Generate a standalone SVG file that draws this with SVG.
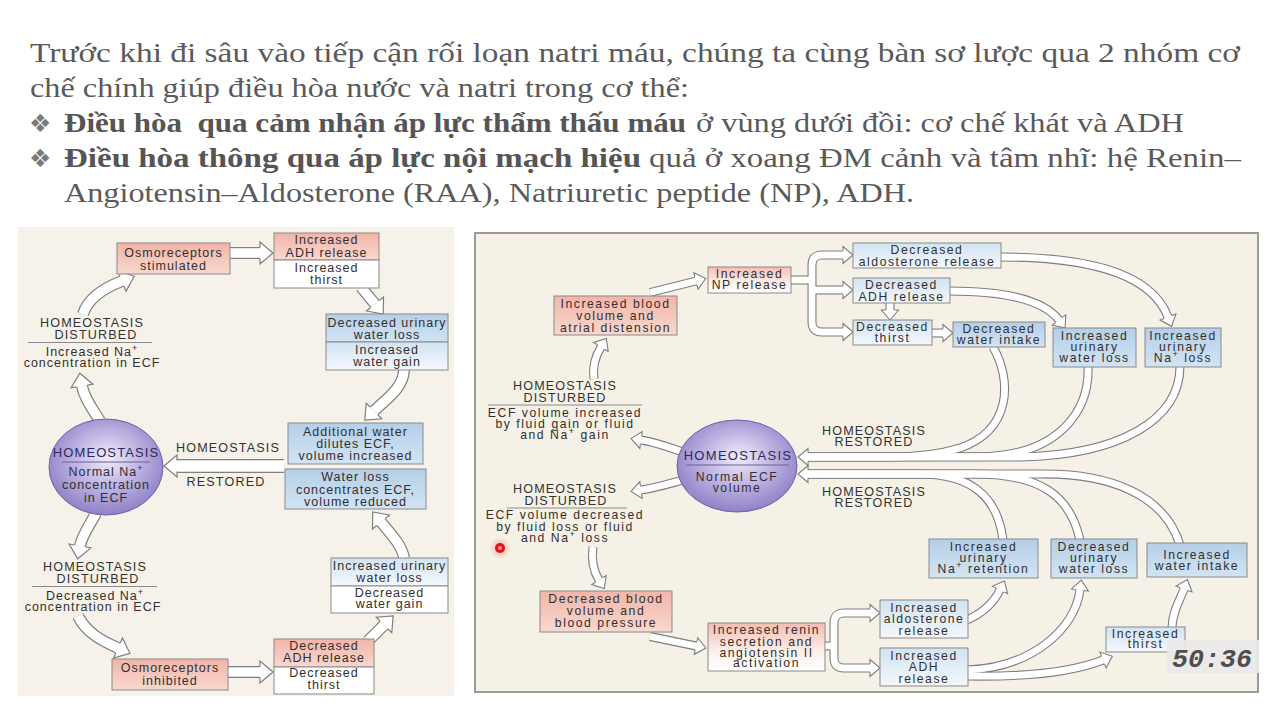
<svg xmlns="http://www.w3.org/2000/svg" width="1280" height="720" viewBox="0 0 1280 720">
<defs>
  <style>
    .hd{font-family:"Liberation Serif","DejaVu Serif",serif;font-size:28px;fill:#5a5a5a}
    .hb{font-weight:bold;fill:#555}
    .bul{font-family:"DejaVu Sans",sans-serif;font-size:25px;fill:#7a7a7a}
    .t{font-family:"Liberation Sans",Arial,sans-serif;font-size:12.5px;letter-spacing:1px;fill:#342e2e;text-anchor:middle}
    .tr{font-family:"Liberation Sans",Arial,sans-serif;font-size:12.2px;letter-spacing:1.55px;fill:#342e2e;text-anchor:middle}
    .cap{font-family:"Liberation Sans",Arial,sans-serif;font-size:12.6px;letter-spacing:1.15px;fill:#333;text-anchor:middle}
    .ttl{font-family:"Liberation Sans",Arial,sans-serif;font-size:13px;letter-spacing:1.1px;fill:#2d2a5c;text-anchor:middle}
    .box{stroke:#8a8a8a;stroke-width:1}
    .rule{stroke:#8a8a8a;stroke-width:1}
    .ol{fill:none;stroke:#7e7e7e;stroke-linejoin:round}
    .in{fill:none;stroke:#ffffff;stroke-linejoin:round}
    .L.ol{stroke-width:12}
    .L.in{stroke-width:9.6}
    .R.ol{stroke-width:9}
    .R.in{stroke-width:6.8}
  </style>
  <linearGradient id="gPink" x1="0" y1="0" x2="0" y2="1">
    <stop offset="0" stop-color="#f2b5a8"/><stop offset="1" stop-color="#f8d8cf"/>
  </linearGradient>
  <linearGradient id="gPinkW" x1="0" y1="0" x2="0" y2="1">
    <stop offset="0" stop-color="#f4bdb1"/><stop offset="0.6" stop-color="#fdf0ec"/><stop offset="1" stop-color="#ffffff"/>
  </linearGradient>
  <linearGradient id="gBlue" x1="0" y1="0" x2="0" y2="1">
    <stop offset="0" stop-color="#b4cfe8"/><stop offset="1" stop-color="#d2e4f3"/>
  </linearGradient>
  <linearGradient id="gBlueL" x1="0" y1="0" x2="0" y2="1">
    <stop offset="0" stop-color="#d1e3f2"/><stop offset="1" stop-color="#f4f8fc"/>
  </linearGradient>
  <radialGradient id="gEl" cx="0.5" cy="0.45" r="0.62" fx="0.52" fy="0.4">
    <stop offset="0" stop-color="#f0edfa"/><stop offset="0.45" stop-color="#c0b5e4"/><stop offset="1" stop-color="#8475bf"/>
  </radialGradient>
  <radialGradient id="gDot">
    <stop offset="0" stop-color="#ff2020" stop-opacity="0.35"/><stop offset="1" stop-color="#ff2020" stop-opacity="0"/>
  </radialGradient>

  <!-- hollow arrowheads: open at the base so the shaft runs into them -->
  <marker id="ml" markerUnits="userSpaceOnUse" viewBox="-1 -13 16 26" markerWidth="16" markerHeight="26" refX="0" refY="0" orient="auto" overflow="visible">
    <path d="M0,-11 L13,0 L0,11 Z" fill="#fff"/>
    <path d="M0,-5.6 L0,-11 L13,0 L0,11 L0,5.6" fill="none" stroke="#7e7e7e" stroke-width="1.2"/>
  </marker>
  <marker id="mr" markerUnits="userSpaceOnUse" viewBox="-1 -10 13 20" markerWidth="13" markerHeight="20" refX="0" refY="0" orient="auto" overflow="visible">
    <path d="M0,-8.5 L10,0 L0,8.5 Z" fill="#fff"/>
    <path d="M0,-4.2 L0,-8.5 L10,0 L0,8.5 L0,4.2" fill="none" stroke="#7e7e7e" stroke-width="1.1"/>
  </marker>

  <!-- connector geometry, left cycle -->
  <path id="la1" d="M229,253 L260,253"/>
  <path id="la2" d="M361,287 L375,304"/>
  <path id="la3" d="M404,369 C404,388 386,399 374,411"/>
  <path id="la4" d="M284,466 L177,466"/>
  <path id="la5" d="M100,421 C92,408 84,398 82,386"/>
  <path id="la6" d="M83,314 C88,298 104,288 122,281"/>
  <path id="la7" d="M96,513 C90,525 82,535 80,546"/>
  <path id="la8" d="M78,616 C86,632 100,640 118,648"/>
  <path id="la9" d="M227,672 L260,672"/>
  <path id="la10" d="M368,641 L384,625"/>
  <path id="la11" d="M404,558 C402,545 390,533 381,522"/>

  <!-- connector geometry, right cycle -->
  <path id="ra1" d="M650,292.5 L696,281"/>
  <path id="ra2a" d="M790,280 L812,280"/>
  <path id="ra2b" d="M812,280 L812,265 Q812,255 822,255 L843,255"/>
  <path id="ra2c" d="M812,290 L843,290"/>
  <path id="ra2d" d="M812,280 L812,322 Q812,332 822,332 L843,332"/>
  <path id="ra3" d="M890,303 L890,310"/>
  <path id="ra4" d="M931,333 L943,333"/>
  <path id="ra5" d="M949,291 C1000,291 1042,298 1059,320"/>
  <path id="ra6" d="M1000,257 C1080,257 1150,270 1168,317"/>
  <path id="rp1" d="M993,347 C1012,380 1012,430 960,448 C940,454 920,457 890,457 L808,457"/>
  <path id="rp2" d="M1088,366 C1090,410 1060,452 990,456.5 L808,457"/>
  <path id="rp3" d="M1180,366 C1180,420 1120,455 1020,457 L808,457"/>
  <path id="rq1" d="M1003,540 C998,500 975,474 920,474 L808,474"/>
  <path id="rq2" d="M1080,540 C1070,495 1040,474 975,474 L808,474"/>
  <path id="rq3" d="M1180,545 C1165,495 1110,473 1040,474 L808,474"/>
  <path id="ra9" d="M683,452 C668,447 655,442 641,440"/>
  <path id="ra10" d="M683,480 C668,484 655,488 641,490"/>
  <path id="ra11" d="M594,379 C592,365 596,355 601,347"/>
  <path id="ra12" d="M593,547 C591,562 594,572 599,580"/>
  <path id="ra13" d="M650,636.5 L696,646"/>
  <path id="ra14a" d="M824,646 L834,646"/>
  <path id="ra14b" d="M834,646 L834,623 Q834,613 844,613 L870,613"/>
  <path id="ra14c" d="M834,646 L834,658 Q834,668 844,668 L870,668"/>
  <path id="ra15" d="M967,620 C985,612 995,600 1000,590"/>
  <path id="ra16" d="M967,670 C1030,668 1075,630 1080,590"/>
  <path id="ra17" d="M967,676 C1020,677 1070,673 1103,660"/>
  <path id="ra18" d="M1172,628 C1172,612 1180,600 1184,589"/>
</defs>

<rect width="1280" height="720" fill="#ffffff"/>

<!-- heading -->
<g id="heading">
  <text class="hd" x="30" y="62" textLength="1210" lengthAdjust="spacingAndGlyphs">Trước khi đi sâu vào tiếp cận rối loạn natri máu, chúng ta cùng bàn sơ lược qua 2 nhóm cơ</text>
  <text class="hd" x="30" y="97" textLength="659" lengthAdjust="spacingAndGlyphs">chế chính giúp điều hòa nước và natri trong cơ thể:</text>
  <text class="bul" x="29" y="132">❖</text>
  <text class="hd hb" x="64" y="132" textLength="622" lengthAdjust="spacingAndGlyphs" xml:space="preserve">Điều hòa  qua cảm nhận áp lực thẩm thấu máu</text>
  <text class="hd" x="696" y="132" textLength="488" lengthAdjust="spacingAndGlyphs">ở vùng dưới đồi: cơ chế khát và ADH</text>
  <text class="bul" x="29" y="167">❖</text>
  <text class="hd hb" x="64" y="167" textLength="577" lengthAdjust="spacingAndGlyphs">Điều hòa thông qua áp lực nội mạch hiệu</text>
  <text class="hd" x="649" y="167" textLength="592" lengthAdjust="spacingAndGlyphs">quả ở xoang ĐM cảnh và tâm nhĩ: hệ Renin–</text>
  <text class="hd" x="64" y="202" textLength="850" lengthAdjust="spacingAndGlyphs">Angiotensin–Aldosterone (RAA), Natriuretic peptide (NP), ADH.</text>
</g>

<!-- panels -->
<rect x="18" y="227" width="436" height="469" fill="#f6f2e9"/>
<rect x="475" y="233" width="783" height="459" fill="#f5f1e6" stroke="#9b9b9b" stroke-width="2"/>

<!-- connectors: outlines first, then white cores with arrowheads -->
<g id="connectors">
  <g>
    <use href="#la1" class="ol L"/><use href="#la2" class="ol L"/><use href="#la3" class="ol L"/>
    <use href="#la4" class="ol L" style="stroke-width:14"/><use href="#la5" class="ol L"/><use href="#la6" class="ol L"/>
    <use href="#la7" class="ol L"/><use href="#la8" class="ol L"/><use href="#la9" class="ol L"/>
    <use href="#la10" class="ol L"/><use href="#la11" class="ol L"/>
    <use href="#ra1" class="ol R"/><use href="#ra2a" class="ol R"/><use href="#ra2b" class="ol R"/>
    <use href="#ra2c" class="ol R"/><use href="#ra2d" class="ol R"/><use href="#ra3" class="ol R"/>
    <use href="#ra4" class="ol R"/><use href="#ra5" class="ol R"/><use href="#ra6" class="ol R"/>
    <use href="#rp1" class="ol R"/><use href="#rp2" class="ol R"/><use href="#rp3" class="ol R"/>
    <use href="#rq1" class="ol R"/><use href="#rq2" class="ol R"/><use href="#rq3" class="ol R"/>
    <use href="#ra9" class="ol R"/><use href="#ra10" class="ol R"/><use href="#ra11" class="ol R"/>
    <use href="#ra12" class="ol R"/><use href="#ra13" class="ol R"/><use href="#ra14a" class="ol R"/>
    <use href="#ra14b" class="ol R"/><use href="#ra14c" class="ol R"/><use href="#ra15" class="ol R"/>
    <use href="#ra16" class="ol R"/><use href="#ra17" class="ol R"/><use href="#ra18" class="ol R"/>
  </g>
  <g>
    <use href="#la1" class="in L" marker-end="url(#ml)"/><use href="#la2" class="in L" marker-end="url(#ml)"/>
    <use href="#la3" class="in L" marker-end="url(#ml)"/><use href="#la4" class="in L" style="stroke-width:11.6" marker-end="url(#ml)"/>
    <use href="#la5" class="in L" marker-end="url(#ml)"/><use href="#la6" class="in L" marker-end="url(#ml)"/>
    <use href="#la7" class="in L" marker-end="url(#ml)"/><use href="#la8" class="in L" marker-end="url(#ml)"/>
    <use href="#la9" class="in L" marker-end="url(#ml)"/><use href="#la10" class="in L" marker-end="url(#ml)"/>
    <use href="#la11" class="in L" marker-end="url(#ml)"/>
    <use href="#ra1" class="in R" marker-end="url(#mr)"/><use href="#ra2a" class="in R"/>
    <use href="#ra2b" class="in R" marker-end="url(#mr)"/><use href="#ra2c" class="in R" marker-end="url(#mr)"/>
    <use href="#ra2d" class="in R" marker-end="url(#mr)"/><use href="#ra3" class="in R" marker-end="url(#mr)"/>
    <use href="#ra4" class="in R" marker-end="url(#mr)"/><use href="#ra5" class="in R" marker-end="url(#mr)"/>
    <use href="#ra6" class="in R" marker-end="url(#mr)"/>
    <use href="#rp1" class="in R"/><use href="#rp2" class="in R"/><use href="#rp3" class="in R" marker-end="url(#mr)"/>
    <use href="#rq1" class="in R"/><use href="#rq2" class="in R"/><use href="#rq3" class="in R" marker-end="url(#mr)"/>
    <use href="#ra9" class="in R" marker-end="url(#mr)"/><use href="#ra10" class="in R" marker-end="url(#mr)"/>
    <use href="#ra11" class="in R" marker-end="url(#mr)"/><use href="#ra12" class="in R" marker-end="url(#mr)"/>
    <use href="#ra13" class="in R" marker-end="url(#mr)"/><use href="#ra14a" class="in R"/>
    <use href="#ra14b" class="in R" marker-end="url(#mr)"/><use href="#ra14c" class="in R" marker-end="url(#mr)"/>
    <use href="#ra15" class="in R" marker-end="url(#mr)"/><use href="#ra16" class="in R" marker-end="url(#mr)"/>
    <use href="#ra17" class="in R" marker-end="url(#mr)"/><use href="#ra18" class="in R" marker-end="url(#mr)"/>
  </g>
</g>

<!-- ===== sodium concentration cycle ===== -->
<g id="osmo-stimulated">
  <rect class="box" x="117" y="243" width="113" height="31" fill="url(#gPink)"/>
  <text class="t" x="173.5" y="257">Osmoreceptors</text>
  <text class="t" x="173.5" y="270">stimulated</text>
</g>
<g id="adh-thirst-up">
  <rect class="box" x="274" y="233" width="105" height="27" fill="url(#gPink)"/>
  <rect class="box" x="274" y="260" width="105" height="28" fill="#ffffff"/>
  <text class="t" x="326.5" y="244">Increased</text>
  <text class="t" x="326.5" y="256.5">ADH release</text>
  <text class="t" x="326.5" y="272">Increased</text>
  <text class="t" x="326.5" y="284">thirst</text>
</g>
<g id="water-kept">
  <rect class="box" x="326" y="314" width="122" height="28" fill="url(#gBlue)"/>
  <rect class="box" x="326" y="342" width="122" height="28" fill="url(#gBlueL)"/>
  <text class="t" x="387" y="327">Decreased urinary</text>
  <text class="t" x="387" y="338.5">water loss</text>
  <text class="t" x="387" y="354">Increased</text>
  <text class="t" x="387" y="366">water gain</text>
</g>
<g id="ecf-diluted">
  <rect class="box" x="288" y="423" width="135" height="41" fill="url(#gBlue)"/>
  <text class="t" x="355.5" y="436">Additional water</text>
  <text class="t" x="355.5" y="448">dilutes ECF,</text>
  <text class="t" x="355.5" y="460">volume increased</text>
</g>
<g id="ecf-concentrated">
  <rect class="box" x="285" y="469" width="141" height="40" fill="url(#gBlue)"/>
  <text class="t" x="355.5" y="481">Water loss</text>
  <text class="t" x="355.5" y="493.5">concentrates ECF,</text>
  <text class="t" x="355.5" y="506">volume reduced</text>
</g>
<g id="restored-left">
  <text class="cap" x="228" y="452">HOMEOSTASIS</text>
  <text class="cap" x="226" y="486">RESTORED</text>
</g>
<g id="homeostasis-na">
  <ellipse cx="106" cy="467" rx="57" ry="48" fill="url(#gEl)" stroke="#6d60a8" stroke-width="1"/>
  <text class="ttl" x="106" y="457">HOMEOSTASIS</text>
  <line x1="62" y1="462" x2="150" y2="462" stroke="#6a6090" stroke-width="1"/>
  <text class="t" x="106" y="476">Normal Na<tspan baseline-shift="super" font-size="9">+</tspan></text>
  <text class="t" x="106" y="489">concentration</text>
  <text class="t" x="106" y="502">in ECF</text>
</g>
<g id="disturbed-high-na">
  <text class="cap" x="92" y="327">HOMEOSTASIS</text>
  <text class="cap" x="96" y="339">DISTURBED</text>
  <line class="rule" x1="28" y1="342.5" x2="152" y2="342.5"/>
  <text class="t" x="92" y="356">Increased Na<tspan baseline-shift="super" font-size="9">+</tspan></text>
  <text class="t" x="92" y="367">concentration in ECF</text>
</g>
<g id="disturbed-low-na">
  <text class="cap" x="95" y="571">HOMEOSTASIS</text>
  <text class="cap" x="98" y="583">DISTURBED</text>
  <line class="rule" x1="32" y1="586.5" x2="157" y2="586.5"/>
  <text class="t" x="95" y="600">Decreased Na<tspan baseline-shift="super" font-size="9">+</tspan></text>
  <text class="t" x="93" y="611">concentration in ECF</text>
</g>
<g id="osmo-inhibited">
  <rect class="box" x="112" y="659" width="116" height="31" fill="url(#gPink)"/>
  <text class="t" x="170" y="672">Osmoreceptors</text>
  <text class="t" x="170" y="685">inhibited</text>
</g>
<g id="adh-thirst-down">
  <rect class="box" x="274" y="639" width="100" height="28" fill="url(#gPink)"/>
  <rect class="box" x="274" y="667" width="100" height="27" fill="#ffffff"/>
  <text class="t" x="324" y="650">Decreased</text>
  <text class="t" x="324" y="662">ADH release</text>
  <text class="t" x="324" y="677">Decreased</text>
  <text class="t" x="324" y="689">thirst</text>
</g>
<g id="water-lost">
  <rect class="box" x="331" y="558" width="117" height="28" fill="url(#gBlueL)"/>
  <rect class="box" x="331" y="586" width="117" height="27" fill="#ffffff"/>
  <text class="t" x="389.5" y="570">Increased urinary</text>
  <text class="t" x="389.5" y="581.5">water loss</text>
  <text class="t" x="389.5" y="597">Decreased</text>
  <text class="t" x="389.5" y="608">water gain</text>
</g>

<!-- ===== ECF volume cycle ===== -->
<g id="blood-volume-up">
  <rect class="box" x="554" y="296" width="123" height="39" fill="url(#gPink)"/>
  <text class="tr" x="615.5" y="308">Increased blood</text>
  <text class="tr" x="615.5" y="320">volume and</text>
  <text class="tr" x="615.5" y="331.5">atrial distension</text>
</g>
<g id="np-release">
  <rect class="box" x="708" y="267" width="83" height="26" fill="url(#gPinkW)"/>
  <text class="tr" x="749.5" y="277.5">Increased</text>
  <text class="tr" x="749.5" y="289">NP release</text>
</g>
<g id="aldo-down">
  <rect class="box" x="853" y="243" width="148" height="25" fill="url(#gBlueL)"/>
  <text class="tr" x="927" y="254">Decreased</text>
  <text class="tr" x="927" y="265.5">aldosterone release</text>
</g>
<g id="adh-down">
  <rect class="box" x="853" y="278" width="97" height="25" fill="url(#gBlueL)"/>
  <text class="tr" x="901.5" y="289">Decreased</text>
  <text class="tr" x="901.5" y="300.5">ADH release</text>
</g>
<g id="thirst-down">
  <rect class="box" x="853" y="320" width="79" height="25" fill="url(#gBlueL)"/>
  <text class="tr" x="892.5" y="331">Decreased</text>
  <text class="tr" x="892.5" y="342">thirst</text>
</g>
<g id="intake-down">
  <rect class="box" x="953" y="322" width="92" height="25" fill="url(#gBlue)"/>
  <text class="tr" x="999" y="332.5">Decreased</text>
  <text class="tr" x="999" y="343.5">water intake</text>
</g>
<g id="urine-water-up">
  <rect class="box" x="1053" y="328" width="83" height="39" fill="url(#gBlue)"/>
  <text class="tr" x="1094.5" y="340">Increased</text>
  <text class="tr" x="1094.5" y="351">urinary</text>
  <text class="tr" x="1094.5" y="362">water loss</text>
</g>
<g id="urine-na-up">
  <rect class="box" x="1145" y="328" width="76" height="39" fill="url(#gBlue)"/>
  <text class="tr" x="1183" y="340">Increased</text>
  <text class="tr" x="1183" y="351">urinary</text>
  <text class="tr" x="1183" y="362">Na<tspan baseline-shift="super" font-size="9">+</tspan> loss</text>
</g>
<g id="restored-right">
  <text class="cap" x="874" y="435">HOMEOSTASIS</text>
  <text class="cap" x="874" y="446">RESTORED</text>
  <text class="cap" x="874" y="496">HOMEOSTASIS</text>
  <text class="cap" x="874" y="507">RESTORED</text>
</g>
<g id="homeostasis-ecf">
  <ellipse cx="737" cy="466" rx="60" ry="46" fill="url(#gEl)" stroke="#6d60a8" stroke-width="1"/>
  <text class="ttl" x="738" y="460" style="letter-spacing:1.3px">HOMEOSTASIS</text>
  <line x1="686" y1="465" x2="789" y2="465" stroke="#6a6090" stroke-width="1"/>
  <text class="tr" x="737" y="481">Normal ECF</text>
  <text class="tr" x="737" y="492">volume</text>
</g>
<g id="disturbed-volume-up">
  <text class="cap" x="565" y="390">HOMEOSTASIS</text>
  <text class="cap" x="565" y="402">DISTURBED</text>
  <line class="rule" x1="488" y1="405" x2="642" y2="405"/>
  <text class="tr" x="565" y="417">ECF volume increased</text>
  <text class="tr" x="565" y="428">by fluid gain or fluid</text>
  <text class="tr" x="565" y="439">and Na<tspan baseline-shift="super" font-size="9">+</tspan> gain</text>
</g>
<g id="disturbed-volume-down">
  <text class="cap" x="565" y="493">HOMEOSTASIS</text>
  <text class="cap" x="566" y="505">DISTURBED</text>
  <line class="rule" x1="507" y1="508" x2="627" y2="508"/>
  <text class="tr" x="565" y="519">ECF volume decreased</text>
  <text class="tr" x="565" y="531">by fluid loss or fluid</text>
  <text class="tr" x="565" y="542">and Na<tspan baseline-shift="super" font-size="9">+</tspan> loss</text>
</g>
<g id="blood-volume-down">
  <rect class="box" x="540" y="591" width="132" height="41" fill="url(#gPink)"/>
  <text class="tr" x="606" y="603">Decreased blood</text>
  <text class="tr" x="606" y="615">volume and</text>
  <text class="tr" x="606" y="626.5">blood pressure</text>
</g>
<g id="renin-up">
  <rect class="box" x="708" y="623" width="117" height="48" fill="url(#gPinkW)"/>
  <text class="tr" x="766.5" y="634">Increased renin</text>
  <text class="tr" x="766.5" y="645.5">secretion and</text>
  <text class="tr" x="766.5" y="656.5">angiotensin II</text>
  <text class="tr" x="766.5" y="667">activation</text>
</g>
<g id="aldo-up">
  <rect class="box" x="880" y="600" width="88" height="38" fill="url(#gBlueL)"/>
  <text class="tr" x="924" y="612">Increased</text>
  <text class="tr" x="924" y="623">aldosterone</text>
  <text class="tr" x="924" y="634.5">release</text>
</g>
<g id="adh-up">
  <rect class="box" x="880" y="648" width="88" height="38" fill="url(#gBlueL)"/>
  <text class="tr" x="924" y="660">Increased</text>
  <text class="tr" x="924" y="671">ADH</text>
  <text class="tr" x="924" y="682.5">release</text>
</g>
<g id="na-retention">
  <rect class="box" x="929" y="539" width="109" height="39" fill="url(#gBlue)"/>
  <text class="tr" x="983.5" y="551">Increased</text>
  <text class="tr" x="983.5" y="561.5">urinary</text>
  <text class="tr" x="983.5" y="572.5">Na<tspan baseline-shift="super" font-size="9">+</tspan> retention</text>
</g>
<g id="urine-water-down">
  <rect class="box" x="1051" y="539" width="86" height="39" fill="url(#gBlue)"/>
  <text class="tr" x="1094" y="551">Decreased</text>
  <text class="tr" x="1094" y="561.5">urinary</text>
  <text class="tr" x="1094" y="572.5">water loss</text>
</g>
<g id="intake-up">
  <rect class="box" x="1147" y="543" width="100" height="34" fill="url(#gBlue)"/>
  <text class="tr" x="1197" y="559">Increased</text>
  <text class="tr" x="1197" y="570">water intake</text>
</g>
<g id="thirst-up">
  <rect class="box" x="1106" y="627" width="79" height="25" fill="url(#gBlueL)"/>
  <text class="tr" x="1145.5" y="637.5">Increased</text>
  <text class="tr" x="1145.5" y="648">thirst</text>
</g>

<!-- pointer dot -->
<g id="pointer">
  <circle cx="500" cy="548" r="11" fill="url(#gDot)"/>
  <circle cx="500" cy="548" r="5" fill="#e01515"/>
  <circle cx="500" cy="548" r="2" fill="#ff9a9a"/>
</g>

<!-- playback time -->
<g id="timestamp">
  <rect x="1167" y="640" width="92" height="33" fill="#e9e9e9" opacity="0.92"/>
  <text x="1172" y="667" font-family="'Liberation Mono','DejaVu Sans Mono',monospace" font-size="26" font-weight="bold" font-style="italic" fill="#4e4e4e" textLength="80" lengthAdjust="spacingAndGlyphs">50:36</text>
</g>
</svg>
